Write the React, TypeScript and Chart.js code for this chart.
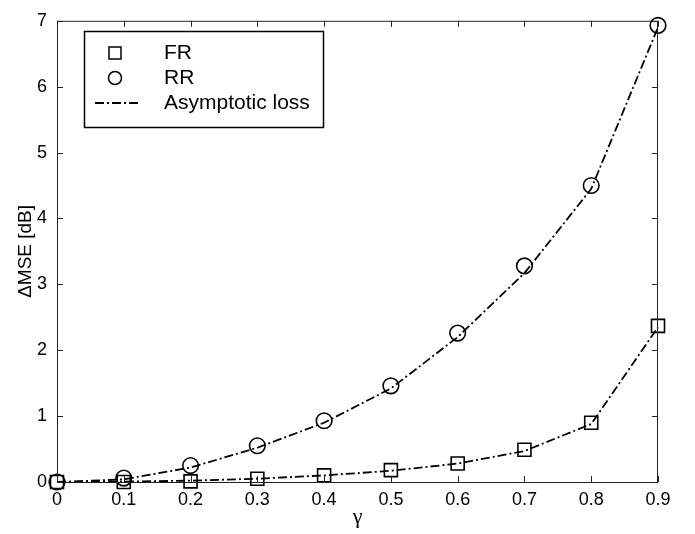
import React, { useEffect, useRef } from "react";
import { Chart, registerables } from "chart.js";

Chart.register(...registerables);

// ---- data ----
const gammaValues = [0, 0.1, 0.2, 0.3, 0.4, 0.5, 0.6, 0.7, 0.8, 0.9];
const frValues = [0, 0.0, 0.01, 0.05, 0.1, 0.18, 0.28, 0.49, 0.9, 2.37];
const rrValues = [0, 0.06, 0.25, 0.55, 0.93, 1.46, 2.26, 3.28, 4.5, 6.93];
const frAsymptotic = [0, 0.005, 0.02, 0.05, 0.1, 0.17, 0.28, 0.47, 0.88, 2.35];
const rrAsymptotic = [0, 0.04, 0.22, 0.52, 0.9, 1.42, 2.2, 3.17, 4.45, 6.9];
const xTickValues = [0, 0.1, 0.2, 0.3, 0.4, 0.5, 0.6, 0.7, 0.8, 0.9];
const yTickValues = [0, 1, 2, 3, 4, 5, 6, 7];
const legendLabels = ["FR", "RR", "Asymptotic loss"];
const xTitle = "γ";
const yTitle = "ΔMSE [dB]";

const INK = "#000000";
const FRAME = "#222222";
const DASH = [9, 3, 2, 3];

const toPoints = (ys: number[]) => gammaValues.map((x, i) => ({ x, y: ys[i] }));

const framePlugin = {
  id: "frameTicks",
  afterDraw(chart: any) {
    const { ctx, chartArea, scales } = chart;
    const { left, right, top, bottom } = chartArea;
    ctx.save();
    ctx.strokeStyle = FRAME;
    ctx.lineWidth = 1;
    ctx.strokeRect(left + 0.5, top + 0.5, right - left - 1, bottom - top);
    const tl = 6;
    ctx.beginPath();
    for (const v of xTickValues) {
      const px = Math.round(scales.x.getPixelForValue(v)) + 0.5;
      ctx.moveTo(px, bottom);
      ctx.lineTo(px, bottom - tl);
      ctx.moveTo(px, top);
      ctx.lineTo(px, top + tl);
    }
    for (const v of yTickValues) {
      const py = Math.round(scales.y.getPixelForValue(v)) + 0.5;
      ctx.moveTo(left, py);
      ctx.lineTo(left + tl, py);
      ctx.moveTo(right, py);
      ctx.lineTo(right - tl, py);
    }
    ctx.stroke();
    ctx.restore();
  },
};

const legendPlugin = {
  id: "boxLegend",
  afterDraw(chart: any) {
    const { ctx } = chart;
    const bx = 84, by = 31, bw = 239, bh = 96;
    ctx.save();
    ctx.fillStyle = "#ffffff";
    ctx.fillRect(bx, by, bw, bh);
    ctx.strokeStyle = INK;
    ctx.lineWidth = 1.5;
    ctx.strokeRect(bx + 0.5, by + 0.5, bw, bh);
    const mx = 115;
    const tx = 164;
    const rows = [53, 78, 103];
    ctx.lineWidth = 1.5;
    ctx.strokeRect(mx - 6, rows[0] - 6, 12, 12);
    ctx.beginPath();
    ctx.arc(mx, rows[1], 6.5, 0, Math.PI * 2);
    ctx.stroke();
    ctx.setLineDash(DASH);
    ctx.lineWidth = 1.8;
    ctx.beginPath();
    ctx.moveTo(95, rows[2]);
    ctx.lineTo(138, rows[2]);
    ctx.stroke();
    ctx.setLineDash([]);
    ctx.fillStyle = INK;
    ctx.font = '21px "Liberation Sans", Arial, sans-serif';
    ctx.textBaseline = "middle";
    ctx.textAlign = "left";
    legendLabels.forEach((t, i) => ctx.fillText(t, tx, rows[i]));
    ctx.restore();
  },
};

export default function App() {
  const canvasRef = useRef<HTMLCanvasElement | null>(null);

  useEffect(() => {
    const canvas = canvasRef.current;
    if (!canvas) return;
    const tickFont = { family: '"Liberation Sans", Arial, sans-serif', size: 18 };
    const chart = new Chart(canvas, {
      type: "scatter",
      data: {
        datasets: [
          {
            label: legendLabels[0],
            data: toPoints(frValues),
            showLine: false,
            pointStyle: "rect",
            pointRadius: 9.2,
            pointBorderWidth: 1.6,
            pointBorderColor: INK,
            pointBackgroundColor: "rgba(0,0,0,0)",
            clip: false as any,
          },
          {
            label: legendLabels[1],
            data: toPoints(rrValues),
            showLine: false,
            pointStyle: "circle",
            pointRadius: 7.8,
            pointBorderWidth: 1.6,
            pointBorderColor: INK,
            pointBackgroundColor: "rgba(0,0,0,0)",
            clip: false as any,
          },
          {
            label: legendLabels[2],
            data: toPoints(frAsymptotic),
            showLine: true,
            pointRadius: 0,
            borderColor: INK,
            borderWidth: 1.8,
            borderDash: DASH,
            tension: 0,
            fill: false,
            clip: false as any,
          },
          {
            label: legendLabels[2] + " RR",
            data: toPoints(rrAsymptotic),
            showLine: true,
            pointRadius: 0,
            borderColor: INK,
            borderWidth: 1.8,
            borderDash: DASH,
            tension: 0,
            fill: false,
            clip: false as any,
          },
        ],
      },
      options: {
        responsive: false,
        animation: false,
        layout: { padding: { top: 8, right: 37, left: 0, bottom: 0 } },
        plugins: { legend: { display: false }, tooltip: { enabled: false } },
        scales: {
          x: {
            type: "linear",
            min: 0,
            max: 0.9,
            grid: { display: false, drawTicks: false },
            border: { display: false },
            ticks: {
              color: INK,
              font: tickFont,
              padding: 7,
              maxRotation: 0,
              autoSkip: false,
              callback: (v: any) => String(Math.round(Number(v) * 10) / 10),
            },
            afterBuildTicks: (s: any) => {
              s.ticks = xTickValues.map((v) => ({ value: v }));
            },
            afterFit: (s: any) => {
              s.height = 52;
            },
            title: {
              display: true,
              text: xTitle,
              color: INK,
              font: { family: '"Liberation Serif", "Times New Roman", serif', size: 22 },
              padding: { top: 0, bottom: 4 },
            },
          },
          y: {
            type: "linear",
            min: 0,
            max: 7,
            grid: { display: false, drawTicks: false },
            border: { display: false },
            ticks: {
              color: INK,
              font: tickFont,
              padding: 10,
              autoSkip: false,
            },
            afterBuildTicks: (s: any) => {
              s.ticks = yTickValues.map((v) => ({ value: v }));
            },
            afterFit: (s: any) => {
              s.width = 57;
            },
            title: {
              display: true,
              text: yTitle,
              color: INK,
              font: { family: '"Liberation Sans", Arial, sans-serif', size: 19 },
              padding: { top: 14, bottom: 0 },
            },
          },
        },
      },
      plugins: [framePlugin, legendPlugin],
    });
    return () => chart.destroy();
  }, []);

  return (
    <div style={{ position: "fixed", left: 0, top: 0, width: 695, height: 534, background: "#fff" }}>
      <canvas ref={canvasRef} width={695} height={534} style={{ width: 695, height: 534 }} />
    </div>
  );
}
